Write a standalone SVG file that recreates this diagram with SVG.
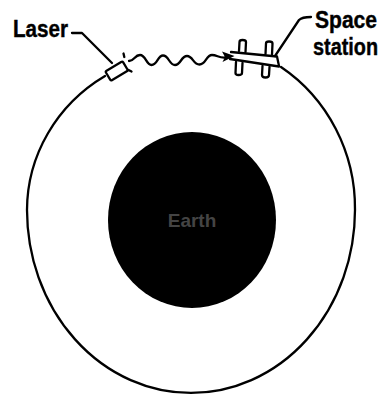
<svg xmlns="http://www.w3.org/2000/svg" width="389" height="396" viewBox="0 0 389 396">
<style>
.ln{fill:none;stroke:#000;stroke-width:2.3;stroke-linecap:round;stroke-linejoin:round}
.lb{font-family:"Liberation Sans",Arial,sans-serif;font-weight:bold;font-size:23px;fill:#000;stroke:#000;stroke-width:0.4}
</style>
<rect width="389" height="396" fill="#fff"/>
<g id="orbit">
<path class="ln" d="M105 76 A164 158 0 0 0 27 210 A164 183 0 0 0 355 210 A164 169 0 0 0 281 67"/>
</g>
<g id="earth">
<ellipse cx="192" cy="220" rx="84" ry="88" fill="#000"/>
<text x="192" y="227" text-anchor="middle" font-family="Liberation Sans, Arial, sans-serif" font-weight="bold" font-size="19" fill="#444">Earth</text>
</g>
<g id="laser">
<rect x="-10" y="-5.5" width="20" height="11" rx="1.5" class="ln" transform="translate(116.7 71) rotate(-31)"/>
<path class="ln" d="M123.5 53.5 L124.3 57 M128.5 70 L131.5 71.5"/>
<text class="lb" x="13" y="36.5" textLength="55" lengthAdjust="spacingAndGlyphs">Laser</text>
</g>
<g id="station">
<path class="ln" d="M231 52 L277 56.5 M230 59 L279 66.5 M277 56.5 L279 66"/>
<path class="ln" d="M239 51 L239.5 42 Q239.5 40 242.5 40 Q246 40 246 42 L245.5 52"/>
<path class="ln" d="M265.5 54 L266 43.5 Q266 41.5 269 41.5 Q272.5 41.5 272.5 43.5 L272 54.5"/>
<path class="ln" d="M236 62 L235.5 73 Q235.5 75 238.5 75 Q242 75 242 73 L242.5 63"/>
<path class="ln" d="M262.5 66 L262 75 Q262 77.5 265.5 77.5 Q269 77.5 269 75 L269.5 67"/>
<text class="lb" x="315" y="28" textLength="62" lengthAdjust="spacingAndGlyphs">Space</text>
<text class="lb" x="313" y="55" textLength="65" lengthAdjust="spacingAndGlyphs">station</text>
</g>
<g id="connectors">
<path class="ln" d="M72 33 L82 33 L112 63"/>
<path class="ln" d="M275 56 L299 20 Q302 17 311 17"/>
<path class="ln" d="M129 61 C134.5 61 134.5 55 140 55 C146 55 146 65 151.5 65 C157.5 65 157.5 55.5 163 55.5 C169 55.5 169 65 175 65 C181 65 181 56 187 56 C193 56 193 64.5 199.5 64.5 C206 64.5 206 55 212 55 C217 55 219 58 225 57.5"/>
<polygon points="234.5,56 222,51.5 225,57 222.5,62" fill="#000"/>
</g>
</svg>
